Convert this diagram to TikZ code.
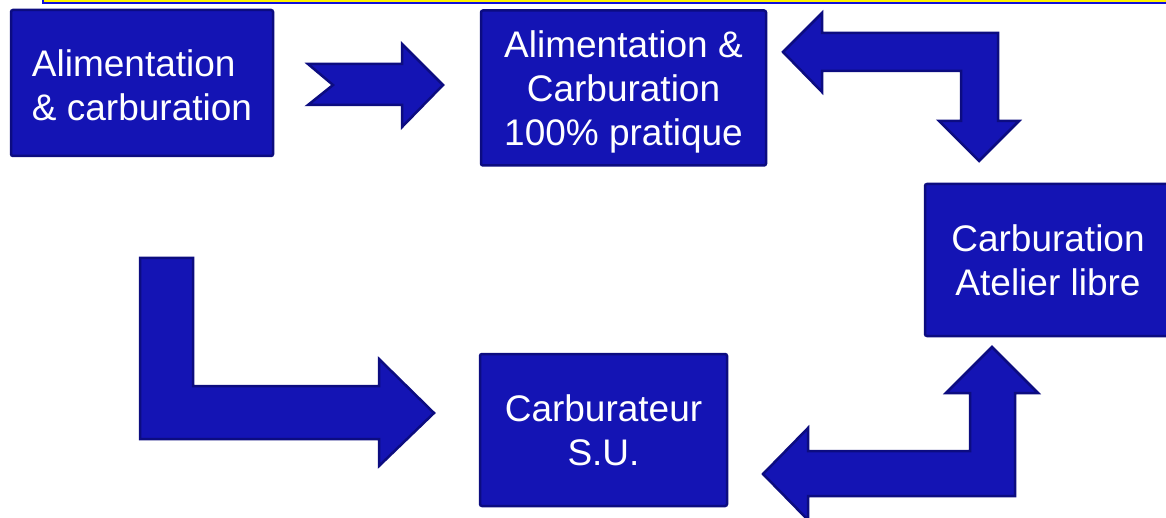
\documentclass[tikz,border=0pt]{standalone}
\usepackage{fontspec}
\setmainfont{Liberation Sans}
\usepackage{tikz}
\usetikzlibrary{arrows.meta}

\definecolor{boxblue}{RGB}{20,20,180}
\definecolor{boxnavy}{RGB}{12,12,128}
\definecolor{barblue}{RGB}{16,16,220}

\begin{document}
\begin{tikzpicture}[x=1pt,y=-1pt]
				\useasboundingbox (0,0) rectangle (1166,518);
				% bandeau du haut
				\draw [fill=yellow, draw=barblue, line width=1.5pt] (43,-10) rectangle (1180,3);
				\begin{scope}[every node/.style = {rectangle, rounded corners=2pt, fill=boxblue,
						draw=boxnavy, line width=2.5pt, text=white, align=center,
						font=\fontsize{37pt}{44pt}\selectfont}]
					\node (A) at (142,83) [minimum width=262pt, minimum height=146pt, align=left] {\rule{0pt}{31pt}Alimentation\\\& carburation};
					\node (B) at (623.5,88) [minimum width=285pt, minimum height=155pt] {\rule{0pt}{35pt}Alimentation \&\\Carburation\\100\% pratique};
					\node (C) at (1048,260) [minimum width=246pt, minimum height=152pt] {Carburation\\Atelier libre};
					\node (D) at (603.5,430) [minimum width=247pt, minimum height=152pt] {Carburateur\\S.U.};
				\end{scope}
				\begin{scope}[every path/.style={fill=boxblue, draw=boxnavy, line width=2.5pt, line join=miter}]
					% A -> B
					\path (308,64) -- (402,64) -- (402,44) -- (443,85) -- (402,127) -- (402,105)
						-- (308,105) -- (333,85) -- cycle;
					% B <-> C
					\path (783,52) -- (822,13) -- (822,33) -- (998,33) -- (998,121) -- (1019,121)
						-- (979,161) -- (939,121) -- (961,121) -- (961,71) -- (822,71) -- (822,92) -- cycle;
					% C <-> D
					\path (992,347) -- (1038,393) -- (1015,393) -- (1015,496) -- (808,496) -- (808,520)
						-- (763,474) -- (808,428) -- (808,451) -- (970,451) -- (970,393) -- (946,393) -- cycle;
					% vers D
					\path (140,258) -- (193,258) -- (193,386) -- (379,386) -- (379,359) -- (434,413)
						-- (379,466) -- (379,439) -- (140,439) -- cycle;
				\end{scope}
			\end{tikzpicture}
\end{document}
